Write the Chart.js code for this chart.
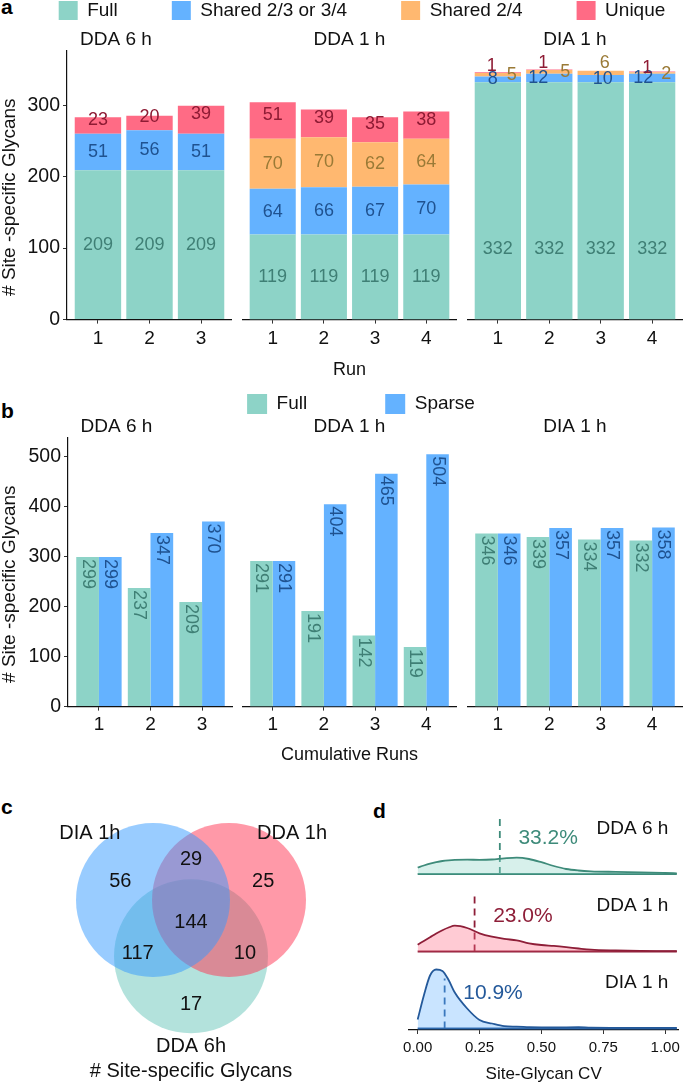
<!DOCTYPE html>
<html>
<head>
<meta charset="utf-8">
<title>Site-specific glycans</title>
<script src="https://cdn.jsdelivr.net/npm/chart.js@4.4.1/dist/chart.umd.min.js"></script>
<style>
  html, body { margin: 0; padding: 0; background: #fff; overflow: hidden; }
  body { position: relative; width: 685px; height: 1083px; }
  canvas { position: absolute; }
  .tag { position: absolute; font: bold 21px "Liberation Sans", Arial, sans-serif; line-height: 21px; color: #000; }
</style>
</head>
<body>
<div class="tag" style="left:1px;top:-4px">a</div>
<div class="tag" style="left:1px;top:400px">b</div>
<div class="tag" style="left:1px;top:796px">c</div>
<div class="tag" style="left:373px;top:800px">d</div>

<script>
// ---- data ----
const facetNames = ['DDA 6 h', 'DDA 1 h', 'DIA 1 h'];
const runs = [[1, 2, 3], [1, 2, 3, 4], [1, 2, 3, 4]];

// a: glycans found per run, by how many runs they were seen in
const fullA     = [[209, 209, 209], [119, 119, 119, 119], [332, 332, 332, 332]];
const sharedA   = [[51, 56, 51], [64, 66, 67, 70], [8, 12, 10, 12]];
const shared24A = [[0, 0, 0], [70, 70, 62, 64], [5, 5, 6, 2]];
const uniqueA   = [[23, 20, 39], [51, 39, 35, 38], [1, 1, 0, 1]];

// b: cumulative runs
const fullB   = [[299, 237, 209], [291, 191, 142, 119], [346, 339, 334, 332]];
const sparseB = [[299, 347, 370], [291, 404, 465, 504], [346, 357, 357, 358]];

// c: venn regions
const vennSets = ['DIA 1h', 'DDA 1h', 'DDA 6h'];
const vennRegions = ['DIA 1h only', 'DIA 1h & DDA 1h', 'DDA 1h only', 'all three',
                     'DIA 1h & DDA 6h', 'DDA 1h & DDA 6h', 'DDA 6h only'];
const vennCounts = [56, 29, 25, 144, 117, 10, 17];

// d: CV densities (ridges)
const cvGroups = ['DDA 6 h', 'DDA 1 h', 'DIA 1 h'];
const cvMedians = [0.332, 0.230, 0.109];
const cvGrid = [0, 0.025, 0.05, 0.075, 0.1, 0.125, 0.15, 0.2, 0.25, 0.3, 0.35, 0.4, 0.45,
                0.5, 0.55, 0.6, 0.65, 0.7, 0.8, 0.9, 1.0, 1.047];
const densDDA6 = [0.65, 0.85, 1.03, 1.18, 1.30, 1.37, 1.41, 1.43, 1.42, 1.45, 1.56, 1.63, 1.50,
                  1.18, 0.80, 0.50, 0.35, 0.27, 0.21, 0.16, 0.10, 0.07];
const densDDA1 = [0.68, 1.05, 1.42, 1.80, 2.13, 2.40, 2.58, 2.35, 1.82, 1.48, 1.26, 1.12, 0.82,
                  0.65, 0.56, 0.44, 0.30, 0.18, 0.10, 0.06, 0.04, 0.03];
const densDIA1 = [0.90, 3.30, 5.30, 5.90, 5.76, 4.85, 3.60, 2.00, 0.85, 0.50, 0.23, 0.19, 0.14,
                  0.11, 0.10, 0.12, 0.13, 0.08, 0.07, 0.07, 0.06, 0.06];

// ---- styling ----
const FONT = '"Liberation Sans", Arial, Helvetica, sans-serif';
Chart.defaults.font.family = FONT;
Chart.defaults.color = '#111';
Chart.defaults.animation = false;
Chart.defaults.events = [];
Chart.defaults.plugins.legend.display = false;
Chart.defaults.plugins.tooltip.enabled = false;

const colFull = '#8DD3C7', colShared = '#64B2FF', colShared24 = '#FFB870', colUnique = '#FF6B85';
const txtFull = '#3F7F75', txtShared = '#1F5290', txtShared24 = '#9A7A36', txtUnique = '#8E1B34';

// facet columns shared by a and b
const facetBoxes = [{ left: 0, width: 232 }, { left: 242, width: 215 }, { left: 467, width: 216 }];
const yAxisW = 67;

function place(left, top, w, h) {
  const c = document.createElement('canvas');
  c.width = w; c.height = h;
  c.style.left = left + 'px'; c.style.top = top + 'px';
  c.style.width = w + 'px'; c.style.height = h + 'px';
  document.body.appendChild(c);
  return c;
}

function xAxis(n, title, stacked, tickPad, titlePad) {
  return {
    type: 'linear', min: 0.4, max: n + 0.6, stacked, offset: false,
    afterBuildTicks: s => { s.ticks = s.ticks.filter(t => Number.isInteger(t.value)); },
    ticks: { stepSize: 1, includeBounds: false, font: { size: 19 }, color: '#111', padding: tickPad },
    grid: { drawOnChartArea: false, offset: false, tickLength: 4, color: '#333' },
    border: { color: '#111', width: 1.2 },
    title: { display: true, text: title, font: { size: 18 }, color: '#111', padding: titlePad }
  };
}

function yAxis(max, show, stacked, w) {
  const ax = {
    display: show, min: 0, max, stacked,
    ticks: { stepSize: 100, includeBounds: false, font: { size: 19.5 }, color: '#111', padding: 3 },
    grid: { drawOnChartArea: false, tickLength: 4, color: '#333' },
    border: { color: '#111', width: 1.2 }
  };
  if (show) ax.afterFit = s => { s.width = w; };
  return ax;
}

// vertical axis title, centred a bit lower than the panel like the original
function yTitle(text, x, dy) {
  return {
    id: 'yTitle',
    afterDraw(chart) {
      const { ctx, chartArea } = chart;
      ctx.save();
      ctx.translate(x, (chartArea.top + chartArea.bottom) / 2 + dy);
      ctx.rotate(-Math.PI / 2);
      ctx.font = '19px ' + FONT;
      ctx.fillStyle = '#111';
      ctx.textAlign = 'center';
      ctx.textBaseline = 'middle';
      ctx.fillText(text, 0, 0);
      ctx.restore();
    }
  };
}

// numbers in the middle of each stacked segment
function stackLabels(nudge) {
  return {
    id: 'stackLabels',
    afterDatasetsDraw(chart) {
      const ctx = chart.ctx;
      ctx.save();
      ctx.font = '18px ' + FONT;
      ctx.textAlign = 'center';
      ctx.textBaseline = 'middle';
      chart.data.datasets.forEach((ds, di) => {
        chart.getDatasetMeta(di).data.forEach((bar, i) => {
          const v = ds.data[i].y;
          if (!v) return;
          const n = nudge && nudge[di] ? nudge[di][i] : [0, 0];
          ctx.fillStyle = ds.textColor;
          ctx.fillText(String(v), bar.x + n[0], (bar.y + bar.base) / 2 + (ds.textDy || 0) + n[1]);
        });
      });
      ctx.restore();
    }
  };
}

// rotated numbers hanging from the top of each bar
const topLabels = {
  id: 'topLabels',
  afterDatasetsDraw(chart) {
    const ctx = chart.ctx;
    ctx.save();
    ctx.font = '18px ' + FONT;
    ctx.textAlign = 'left';
    ctx.textBaseline = 'middle';
    chart.data.datasets.forEach((ds, di) => {
      chart.getDatasetMeta(di).data.forEach((bar, i) => {
        ctx.save();
        ctx.translate(bar.x, bar.y + 2);
        ctx.rotate(Math.PI / 2);
        ctx.fillStyle = ds.textColor;
        ctx.fillText(String(ds.data[i].y), 0, 0);
        ctx.restore();
      });
    });
    ctx.restore();
  }
};

// legend-only chart; the canvas is tall because a top legend may take at most half of it
function legendChart(left, top, names, colors, box, pad) {
  new Chart(place(left, top, 900, (pad * 2 + box + 10) * 2 + 10), {
    type: 'bar',
    data: { labels: [], datasets: names.map((n, i) => ({ label: n, data: [], backgroundColor: colors[i], borderWidth: 0 })) },
    options: {
      responsive: false, devicePixelRatio: 1,
      scales: { x: { display: false }, y: { display: false } },
      plugins: {
        legend: {
          display: true, position: 'top',
          labels: { boxWidth: box, boxHeight: box, padding: pad, font: { size: 19 }, color: '#111' }
        }
      }
    }
  });
}

// ---- panel a ----
legendChart(-88, -53, ['Full', 'Shared 2/3 or 3/4', 'Shared 2/4', 'Unique'],
  [colFull, colShared, colShared24, colUnique], 19, 54);

// DIA labels are placed differently in the original, shift them the same way
const diaNudge = {
  0: [[0, 48], [0, 48], [0, 48], [0, 48]],
  1: [[-5, 0], [-11, 0], [2, 0], [-9, 0]],
  2: [[14, 0], [16, 0], [4, -10], [14, 1]],
  3: [[-6, -1.5], [-6, -1.5], [0, 0], [-5, 1.5]]
};

facetNames.forEach((name, k) => {
  const box = facetBoxes[k];
  const pts = arr => runs[k].map((r, i) => ({ x: r, y: arr[k][i] }));
  const plugins = [stackLabels(k === 2 ? diaNudge : null)];
  if (k === 0) plugins.push(yTitle('# Site -specific Glycans', 10, 12));
  new Chart(place(box.left, 22, box.width, 360), {
    type: 'bar',
    data: {
      datasets: [
        { label: 'Full', data: pts(fullA), backgroundColor: colFull, textColor: txtFull },
        { label: 'Shared 2/3 or 3/4', data: pts(sharedA), backgroundColor: colShared, textColor: txtShared },
        { label: 'Shared 2/4', data: pts(shared24A), backgroundColor: colShared24, textColor: txtShared24 },
        { label: 'Unique', data: pts(uniqueA), backgroundColor: colUnique, textColor: txtUnique, textDy: -5.5 }
      ]
    },
    options: {
      responsive: false, devicePixelRatio: 1,
      layout: { padding: 0 },
      datasets: { bar: { categoryPercentage: 0.9, barPercentage: 1, borderWidth: 0 } },
      scales: {
        x: xAxis(runs[k].length, k === 1 ? 'Run' : ' ', true, 4, { top: 5, bottom: 1 }),
        y: yAxis(376, k === 0, true, yAxisW)
      },
      plugins: {
        title: { display: true, text: name, font: { size: 19, weight: 'normal' }, color: '#111', padding: { top: 6, bottom: 0 } }
      }
    },
    plugins
  });
});

// ---- panel b ----
legendChart(-89, 316, ['Full', 'Sparse'], [colFull, colShared], 20, 78);

facetNames.forEach((name, k) => {
  const box = facetBoxes[k];
  const pts = arr => runs[k].map((r, i) => ({ x: r, y: arr[k][i] }));
  const plugins = [topLabels];
  if (k === 0) plugins.push(yTitle('# Site -specific Glycans', 10, 12));
  new Chart(place(box.left, 413, box.width + (k === 0 ? 1 : 0), 354), {
    type: 'bar',
    data: {
      datasets: [
        { label: 'Full', data: pts(fullB), backgroundColor: colFull, textColor: txtFull },
        { label: 'Sparse', data: pts(sparseB), backgroundColor: colShared, textColor: txtShared }
      ]
    },
    options: {
      responsive: false, devicePixelRatio: 1,
      layout: { padding: 0 },
      datasets: { bar: { categoryPercentage: 0.88, barPercentage: 1, borderWidth: 0 } },
      scales: {
        x: xAxis(runs[k].length, k === 1 ? 'Cumulative Runs' : ' ', false, 3, { top: 5, bottom: 1 }),
        y: yAxis(537, k === 0, false, yAxisW + 1)
      },
      plugins: {
        title: { display: true, text: name, font: { size: 19, weight: 'normal' }, color: '#111', padding: { top: 2, bottom: 0 } }
      }
    },
    plugins
  });
});

// ---- panel c ----
// circle layout in units of the distance between the two upper centres
const vennCentres = [[-0.5, 0], [0.5, 0], [0, -0.74]];
const vennFill = ['rgba(51,153,255,0.5)', 'rgba(255,51,81,0.5)', 'rgba(103,197,185,0.5)'];
const regionSpots = [[-0.93, 0.25], [0, 0.53], [0.95, 0.25], [0, -0.29], [-0.7, -0.7], [0.71, -0.7], [0, -1.38]];
const setLabelSpots = [[-1.33, 0.88], [1.33, 0.88], [0, -1.93]];
const vennR = 77;

const vennText = {
  id: 'vennText',
  afterDatasetsDraw(chart) {
    const { ctx, scales: { x, y } } = chart;
    ctx.save();
    ctx.font = '20px ' + FONT;
    ctx.fillStyle = '#111';
    ctx.textAlign = 'center';
    ctx.textBaseline = 'middle';
    vennCounts.forEach((c, i) =>
      ctx.fillText(String(c), x.getPixelForValue(regionSpots[i][0]), y.getPixelForValue(regionSpots[i][1])));
    vennSets.forEach((s, i) =>
      ctx.fillText(s, x.getPixelForValue(setLabelSpots[i][0]), y.getPixelForValue(setLabelSpots[i][1])));
    ctx.fillText('# Site-specific Glycans', x.getPixelForValue(0), y.getPixelForValue(-2.26));
    ctx.restore();
  }
};

new Chart(place(0, 790, 360, 293), {
  type: 'bubble',
  data: {
    datasets: vennSets.map((s, i) => ({
      label: s,
      data: [{ x: vennCentres[i][0], y: vennCentres[i][1], r: vennR }],
      backgroundColor: vennFill[i], borderWidth: 0
    })).concat([{
      label: 'outline',
      data: vennCentres.map(c => ({ x: c[0], y: c[1], r: vennR })),
      backgroundColor: 'rgba(0,0,0,0)', borderColor: '#fff', borderWidth: 2
    }])
  },
  options: {
    responsive: false, devicePixelRatio: 1,
    layout: { padding: 0, autoPadding: false },
    clip: false,
    scales: {
      x: { display: false, min: -2.5132, max: 2.2237 },
      y: { display: false, min: -2.4079, max: 1.4474 }
    }
  },
  plugins: [vennText]
});

// ---- panel d ----
const ridgeBase = [15.45, 7.7, 0];
const ridgeLine = ['#3E8B7A', '#8E1E38', '#24599A'];
const ridgeFill = ['rgba(141,211,199,0.35)', 'rgba(255,107,133,0.35)', 'rgba(100,178,255,0.35)'];
const ridgeDens = [densDDA6, densDDA1, densDIA1];
const medianHeight = [5.75, 5.7, 5.0];

const ridgeSets = [];
cvGroups.forEach((g, k) => {
  const b = ridgeBase[k];
  ridgeSets.push({
    label: g,
    data: cvGrid.map((x, i) => ({ x, y: b + ridgeDens[k][i] })),
    borderColor: ridgeLine[k], backgroundColor: ridgeFill[k], borderWidth: 1.8,
    fill: { value: b }, pointRadius: 0, cubicInterpolationMode: 'monotone'
  });
  ridgeSets.push({
    label: g + ' base',
    data: [{ x: cvGrid[0], y: b }, { x: cvGrid[cvGrid.length - 1], y: b }],
    borderColor: ridgeLine[k], borderWidth: 1.8, pointRadius: 0, fill: false
  });
  ridgeSets.push({
    label: g + ' median',
    data: [{ x: cvMedians[k], y: b }, { x: cvMedians[k], y: b + medianHeight[k] }],
    borderColor: ridgeLine[k], borderWidth: 1.8, borderDash: [7, 5], pointRadius: 0, fill: false
  });
});

const ridgeText = {
  id: 'ridgeText',
  afterDatasetsDraw(chart) {
    const { ctx, scales: { x, y } } = chart;
    ctx.save();
    ctx.textBaseline = 'middle';
    cvGroups.forEach((g, k) => {
      ctx.font = '21px ' + FONT;
      ctx.textAlign = 'left';
      ctx.fillStyle = ridgeLine[k];
      ctx.fillText((cvMedians[k] * 100).toFixed(1) + '%', x.getPixelForValue(cvMedians[k] + 0.075),
        y.getPixelForValue(ridgeBase[k] + 3.55));
      ctx.font = '19px ' + FONT;
      ctx.textAlign = 'right';
      ctx.fillStyle = '#111';
      ctx.fillText(g, x.getPixelForValue(1.013), y.getPixelForValue(ridgeBase[k] + 4.55));
    });
    ctx.restore();
  }
};

new Chart(place(360, 790, 325, 295), {
  type: 'line',
  data: { datasets: ridgeSets },
  options: {
    responsive: false, devicePixelRatio: 1,
    layout: { padding: { left: 49, right: 5, top: 10, bottom: 0 } },
    scales: {
      x: {
        type: 'linear', min: -0.035, max: 1.053,
        afterFit: s => { s.height = 55; },
        afterBuildTicks: s => { s.ticks = s.ticks.filter(t => t.value >= 0 && t.value <= 1.0001); },
        ticks: { stepSize: 0.25, includeBounds: false, font: { size: 15 }, color: '#111', padding: 5,
                 callback: v => Number(v).toFixed(2) },
        grid: { drawOnChartArea: false, tickLength: 4, color: '#333' },
        border: { color: '#111', width: 1.2 },
        title: { display: true, text: 'Site-Glycan CV', font: { size: 17 }, color: '#111', padding: { top: 4, bottom: 0 } }
      },
      y: { display: false, min: -0.15, max: 22.85 }
    }
  },
  plugins: [ridgeText]
});
</script>
</body>
</html>
